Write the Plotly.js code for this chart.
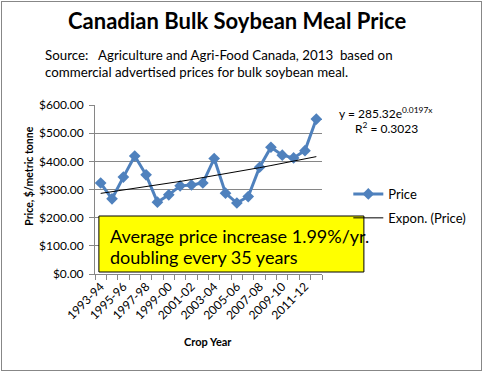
<!DOCTYPE html>
<html>
<head>
<meta charset="utf-8">
<script src="https://cdn.plot.ly/plotly-3.0.1.min.js"></script>
<style>
html,body{margin:0;padding:0;background:#fff;}
#wrap{position:relative;width:483px;height:372px;}
#chart{width:483px;height:372px;}
#frame{position:absolute;left:1px;top:1px;width:479px;height:368px;border:1px solid #878787;pointer-events:none;}
</style>
</head>
<body>
<div id="wrap"><div id="chart"></div><div id="frame"></div></div>
<script>
// Data
var cropYears = ["1993-94","1994-95","1995-96","1996-97","1997-98","1998-99","1999-00","2000-01","2001-02","2002-03",
                 "2003-04","2004-05","2005-06","2006-07","2007-08","2008-09","2009-10","2010-11","2011-12","2012-13"];
var prices = [323, 267, 344, 419, 352, 255, 281, 313, 316, 323,
              410, 287, 252, 275, 379, 450, 422, 412, 438, 550];
var tickLabelEvery = 2;
var equationText = "y = 285.32e<sup>0.0197x</sup>";
var r2Text = "R<sup>2</sup> = 0.3023";
var boxLines = ["Average price increase 1.99%/yr.", "doubling every 35 years"];

var xIdx = cropYears.map(function(_, i){ return i + 1; });

// Exponential trend (least squares fit on ln(price)), as Excel does
var n = xIdx.length, sx = 0, sy = 0, sxx = 0, sxy = 0;
for (var i = 0; i < n; i++) {
  var lx = xIdx[i], ly = Math.log(prices[i]);
  sx += lx; sy += ly; sxx += lx*lx; sxy += lx*ly;
}
var b = (n*sxy - sx*sy) / (n*sxx - sx*sx);
var a = Math.exp((sy - b*sx) / n);
var trend = xIdx.map(function(x){ return a * Math.exp(b * x); });

var tickVals = [], tickText = [];
for (var k = 0; k < n; k += tickLabelEvery) { tickVals.push(xIdx[k]); tickText.push(cropYears[k]); }

var FONT = "Lato, 'Open Sans', sans-serif";
var blue = "#4F81BD";

// pixel helpers for the fixed plot area
var L = 95, R = 328, T = 105, B = 274;
function px(x){ return (x - L) / (R - L); }
function py(y){ return (B - y) / (B - T); }

var traces = [
  { x: xIdx, y: prices, type: "scatter", mode: "lines+markers", name: "Price",
    line: { color: blue, width: 3 },
    marker: { symbol: "diamond", size: 9, color: blue },
    legendgroup: "a" },
  { x: xIdx, y: trend, type: "scatter", mode: "lines", name: "Expon. (Price)",
    line: { color: "#000000", width: 1 },
    legendgroup: "b" }
];

var layout = {
  width: 483, height: 372,
  margin: { l: L, r: 483 - R, t: T, b: 372 - B, pad: 0 },
  paper_bgcolor: "#ffffff", plot_bgcolor: "#ffffff",
  font: { family: FONT, color: "#000000", size: 12 },
  showlegend: true,
  legend: { x: px(355), y: py(179), xanchor: "left", yanchor: "top",
            font: { family: FONT, size: 13, color: "#000" },
            bgcolor: "rgba(0,0,0,0)", traceorder: "grouped", tracegroupgap: 4 },
  xaxis: {
    range: [0.5, n + 0.5], tickmode: "array", tickvals: tickVals, ticktext: tickText,
    tickangle: -45, ticks: "", showgrid: false, zeroline: false,
    showline: true, linecolor: "#868686", linewidth: 1,
    tickfont: { family: FONT, size: 12, color: "#000" },
    minor: { tickmode: "linear", tick0: 0.5, dtick: 1, ticks: "outside", ticklen: 5, tickcolor: "#868686", showgrid: false }
  },
  yaxis: {
    range: [0, 600], dtick: 100, tickprefix: "$", tickformat: ".2f",
    ticks: "outside", ticklen: 5, tickcolor: "#868686",
    showgrid: true, gridcolor: "#868686", gridwidth: 1, zeroline: false,
    showline: true, linecolor: "#868686", linewidth: 1,
    tickfont: { family: FONT, size: 12, color: "#000" }, ticklabelstandoff: 3
  },
  shapes: [
    { type: "rect", xref: "paper", yref: "paper", x0: px(99), x1: px(371), y0: py(272), y1: py(216),
      fillcolor: "#FFFF00", line: { color: "#000", width: 1 }, layer: "above" }
  ],
  annotations: [
    { xref: "paper", yref: "paper", x: px(241), y: py(21), xanchor: "center", yanchor: "middle",
      text: "<b>Canadian Bulk Soybean Meal Price</b>", showarrow: false,
      font: { family: FONT, size: 22, color: "#000" } },
    { xref: "paper", yref: "paper", x: px(42), y: py(55), xanchor: "left", yanchor: "middle",
      text: "Source:   Agriculture and Agri-Food Canada, 2013  based on", showarrow: false,
      font: { family: FONT, size: 13.3, color: "#000" } },
    { xref: "paper", yref: "paper", x: px(42), y: py(72), xanchor: "left", yanchor: "middle",
      text: "commercial advertised prices for bulk soybean meal.", showarrow: false,
      font: { family: FONT, size: 13.3, color: "#000" } },
    { xref: "paper", yref: "paper", x: px(27), y: py(176), xanchor: "center", yanchor: "middle", textangle: -90,
      text: "<b>Price, $/metric tonne</b>", showarrow: false,
      font: { family: FONT, size: 10.5, color: "#000" } },
    { xref: "paper", yref: "paper", x: px(211), y: py(341), xanchor: "center", yanchor: "middle",
      text: "<b>Crop Year</b>", showarrow: false,
      font: { family: FONT, size: 11, color: "#000" } },
    { xref: "paper", yref: "paper", x: px(343), y: py(113), xanchor: "left", yanchor: "middle",
      text: equationText, showarrow: false, font: { family: FONT, size: 12, color: "#000" } },
    { xref: "paper", yref: "paper", x: px(360), y: py(128), xanchor: "left", yanchor: "middle",
      text: r2Text, showarrow: false, font: { family: FONT, size: 12, color: "#000" } },
    { xref: "paper", yref: "paper", x: px(108), y: py(236), xanchor: "left", yanchor: "middle",
      text: boxLines[0], showarrow: false, font: { family: FONT, size: 18, color: "#000" } },
    { xref: "paper", yref: "paper", x: px(108), y: py(257), xanchor: "left", yanchor: "middle",
      text: boxLines[1], showarrow: false, font: { family: FONT, size: 18, color: "#000" } }
  ]
};

Plotly.newPlot("chart", traces, layout, { staticPlot: true, displayModeBar: false });
</script>
</body>
</html>
